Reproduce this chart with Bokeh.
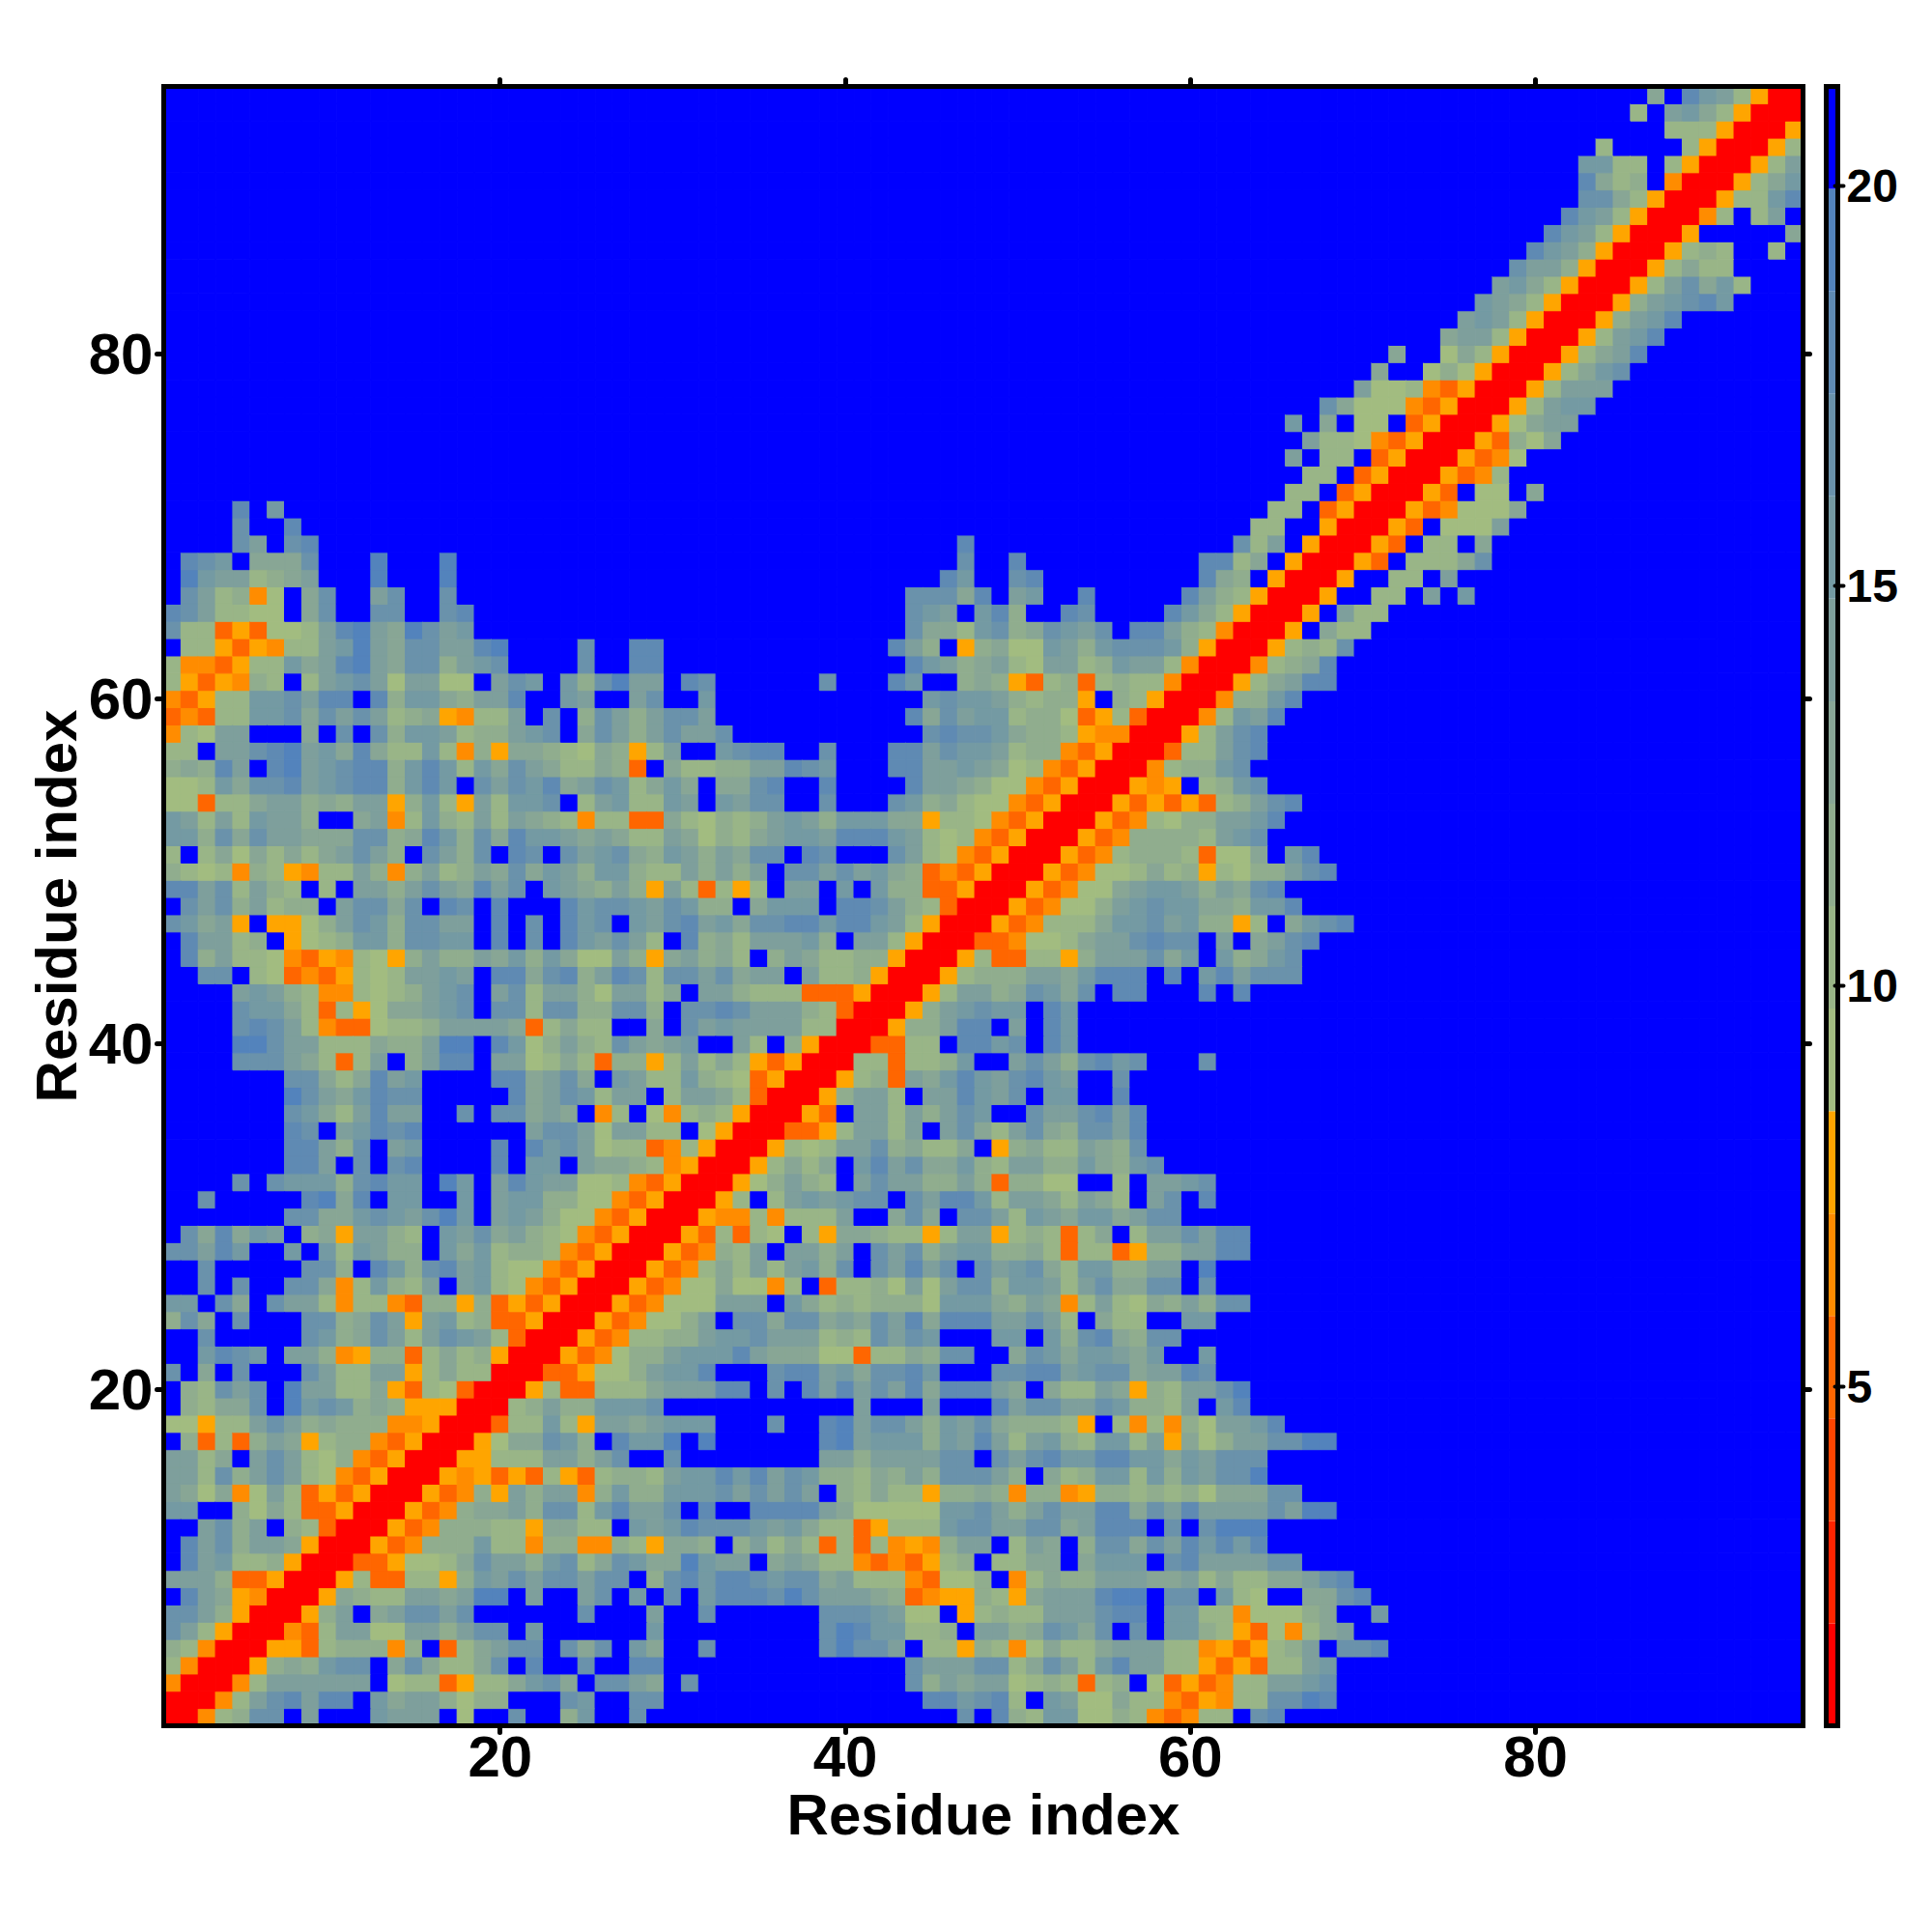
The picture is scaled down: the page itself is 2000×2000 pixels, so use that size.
from bokeh.embed import file_html
from bokeh.resources import INLINE
from bokeh.layouts import row
from bokeh.models import ColumnDataSource, FixedTicker, LinearAxis, LinearColorMapper, Range1d
from bokeh.plotting import figure
from bokeh.transform import transform

# Distance map; it is symmetric, so only the part from
# the diagonal rightwards is listed. Row r starts at column r. Sections are
# columns up to 32 | columns 33-64 | columns 65-95, and missing cells are "."
upper_rows = [
"RRn2377.5...6555.1..7..36..7....|..............7.832661132non22.7|8",
"RRn2578588.64553133...76..77...|............886782.6511422noan22|7798",
"RRn2555555.122oa224674.7754.7.|...........7354551232o23.1oaon22|5567",
"RRa343677.4742247.8..7..88...|...........75557724752685522aoao|2256",
"RRaao2333n3.o24577.747.64..7|......79775.22a32n1422455522naoa|235.778",
"RRno25511553577.6......6...|......79866223.55347647.7.6632ao|1n245",
"RRa35.457757......7...5..7|......7776511.a2322555788.6622n1|1134..6",
"RRa4322554599.5..57.6.7.6|88879755543onaa32a4555899.77.621|..4478",
"RRa2oo22a3657577577.3786|88767745222no113.n24335554452422|44578",
"RRooa112475536724764496|55.45422nonoa23.2244.4666.785555|77",
"RRaon333622n33nn32a443|.35242o2o2nan355.254.37747586868|",
"RRaon33322a4422.65687|77656422oa222677557745888.7.7999|",
"RRaon3445377268557.8|..888854111116675357558847585555|7599",
"RRaon3a5355n3633666|757575.32422a3343n33na3323231444|77",
"RRanaoao2ao2332566|868576332435377753.4236626365779|",
"RRaa22255357..7..|......553555577.7578668866465777|",
"RRa144763.8669.9|......89566636585256326625a41355|7799",
"RRo2262a5545666|...7..895775365743332a.2n2n31556|8",
"RR235336667...|........5...5...857755763325.68.|",
"RRa2oo2224555|88.7.8585758488854.42254a325579.|",
"RRooa1135668|...7885647786...7788567745587...|",
"RRaon133566|68544411o224377..476466546..6...|",
"RRaon22335|6675552327576...66.63784377.....|",
"RRaon1135|.77477454758488855752.422..66...|",
"RRaon111|555.6423233316664354n2521435377.|",
"RRaon11|411n2.o22315157736652574477.7...|",
"RRaon2|42525637.75857.756742663355.9...|",
"RRaon|325.5535.75735663342o22oa335588.|",
"RRao|2o21.2a44322a255a232o24.2557588.|",
"RRa|nn2n2225..474.7752654664577.....|",
"RR|a2.2565677.7588625542542.57.8...|",
"R|Ra13532.57553353o3311..2.5567...|",
"|RRa2424.685744632553364367|",
"|RRa21255734224.a34225437|",
"|RRooa25525.574257437758|",
"|RRao.55253576..7557858|",
"|RRa3552.558657.66..8|",
"|RRa23o5468657865..7|",
"|RR22o2236..57537867...7|",
"|RRoo22.8867.86|",
"|RRa33588.5.86|",
"|RRa356766.86|",
"|RRa255347647.88...8.8|",
"|RRa23335546888.8.6857|77",
"|RRa2oo22a3555746.634|67",
"|RRoon1124557877.5.4|578",
"|RRaon22246675633a2|.4678",
"|RRaon113567664436|68",
"|RRaon11456653547|8",
"|RRaon112423a213|3578",
"|RRaon23332o114|.68",
"|RRaon33332567|",
"|RRaon2133556|8",
"|RRaoaoao235|78",
"|RRana.2367|",
"|RRn23367.|",
"|RRo22578|",
"|RRa2578|",
"|RRn265|8",
"|RRn33|68",
"|RRa2|4588",
"|RRn|2348",
"|RR|a2327",
"|R|Ra.422",
"||RRa.522",
"||RRa..22.5.6",
"||RRa..22.5",
"||RRao.22247",
"||RRao.22.4",
"||RRao.1115",
"||RRaon1114",
"||RRao.11.4",
"||RRaon2",
"||RRaon1",
"||RRao314",
"||RRa1455",
"||RRa2566",
"||RRa2555",
"||RRa2467",
"||RRa2458",
"||RRa2568",
"||RRa3568",
"||RRa356786",
"||RRa257462",
"||RRa2422",
"||RRa232..2",
"||RRa.....4",
"||RRn2.25.",
"||RRa2268",
"||RRa246",
"||RRa25",
"||RRa2",
"||RRa",
"||RR",
"||R",
]

level_edges = [0.76, 2.04, 3.32, 4.60, 5.88, 7.16, 8.44, 9.72, 11.00, 12.28,
               13.56, 14.84, 16.12, 17.40, 18.68, 19.96, 21.24]
level_colors = ["#ff0000", "#ff2400", "#ff4500", "#ff6600", "#ff8c00", "#ffa500",
                "#a2bc80", "#99b587", "#90ad8e", "#88a695", "#7e9f9c", "#749aa3",
                "#6a92ab", "#5f8ab3", "#5383bc", "#0000ff"]
level_of_symbol = {"R": 0, "o": 3, "n": 4, "a": 5, "1": 6, "2": 7, "3": 8, "4": 9,
                   "5": 10, "6": 11, "7": 12, "8": 13, "9": 14, ".": 15}
axis_ticks = [20, 40, 60, 80]
bar_ticks = [5, 10, 15, 20]
axis_title = "Residue index"
N = 95

FONT = "Liberation Sans"


def cells_of_row(r, text):
    a, b, c = text.split("|")
    out = ""
    if r <= 32:
        out += a.ljust(33 - r, ".")[:33 - r]
    if r <= 64:
        w = 32 if r <= 32 else 65 - r
        out += b.ljust(w, ".")[:w]
    w = N - max(r, 65) + 1
    out += c.ljust(w, ".")[:w]
    return out


xs, ys, vals = [], [], []
for r, text in enumerate(upper_rows, start=1):
    for c, sym in enumerate(cells_of_row(r, text), start=r):
        lev = level_of_symbol[sym]
        mid = (level_edges[lev] + level_edges[lev + 1]) / 2
        xs.append(c); ys.append(r); vals.append(mid)
        if c != r:
            xs.append(r); ys.append(c); vals.append(mid)

mapper = LinearColorMapper(palette=level_colors, low=level_edges[0], high=level_edges[-1])


def frame_line(ax):
    ax.axis_line_color = "black"
    ax.axis_line_width = 5
    ax.axis_line_cap = "square"
    ax.minor_tick_line_color = None


def style_axis(ax, labels=True, title_standoff=0):
    ax.ticker = FixedTicker(ticks=axis_ticks)
    frame_line(ax)
    ax.major_tick_line_color = "black"
    ax.major_tick_line_width = 5
    ax.major_tick_line_cap = "round"
    ax.major_tick_in = 0
    ax.major_tick_out = 7
    if labels:
        ax.major_label_text_font = FONT
        ax.major_label_text_font_style = "bold"
        ax.major_label_text_font_size = "60px"
        ax.major_label_text_color = "black"
        ax.major_label_standoff = 4
        ax.axis_label = axis_title
        ax.axis_label_text_font = FONT
        ax.axis_label_text_font_style = "bold"
        ax.axis_label_text_font_size = "60px"
        ax.axis_label_text_color = "black"
        ax.axis_label_standoff = title_standoff
    else:
        ax.major_label_overrides = {t: "" for t in axis_ticks}
        ax.major_label_text_font_size = "0px"
        ax.major_label_standoff = 0


def plain_frame_axis():
    ax = LinearAxis(ticker=FixedTicker(ticks=[]))
    frame_line(ax)
    ax.major_tick_line_color = None
    ax.major_label_text_font_size = "0px"
    ax.major_label_standoff = 0
    return ax


p = figure(frame_width=1697, frame_height=1697, output_backend="svg", toolbar_location=None,
           x_range=Range1d(0.5, 95.5), y_range=Range1d(0.5, 95.5),
           min_border_left=169, min_border_top=89, min_border_right=14, min_border_bottom=110,
           x_axis_location="below", y_axis_location="left")
p.grid.visible = False
p.outline_line_color = None
p.rect(x="x", y="y", width=1, height=1, source=ColumnDataSource(dict(x=xs, y=ys, v=vals)),
       fill_color=transform("v", mapper), line_color=transform("v", mapper), line_width=1)
style_axis(p.xaxis[0], title_standoff=3)
style_axis(p.yaxis[0], title_standoff=-3)
top_axis = LinearAxis()
right_axis = LinearAxis()
style_axis(top_axis, labels=False)
style_axis(right_axis, labels=False)
p.add_layout(top_axis, "above")
p.add_layout(right_axis, "right")

bar = figure(frame_width=12, frame_height=1697, output_backend="svg", toolbar_location=None,
             x_range=Range1d(0, 1), y_range=Range1d(level_edges[0], level_edges[-1]),
             min_border_left=10, min_border_top=89, min_border_right=70, min_border_bottom=110,
             x_axis_location=None, y_axis_location="right")
bar.grid.visible = False
bar.outline_line_color = None
bar.quad(left=0, right=1, bottom=level_edges[:-1], top=level_edges[1:],
         fill_color=level_colors, line_color=None)
bar.add_layout(plain_frame_axis(), "above")
bar.add_layout(plain_frame_axis(), "below")
bar.add_layout(plain_frame_axis(), "left")
ax = bar.yaxis[0]
for candidate in bar.right:
    ax = candidate
ax.ticker = FixedTicker(ticks=bar_ticks)
frame_line(ax)
ax.major_tick_line_color = "black"
ax.major_tick_line_width = 4
ax.major_tick_line_cap = "round"
ax.major_tick_in = 3
ax.major_tick_out = 6
ax.major_label_text_font = FONT
ax.major_label_text_font_style = "bold"
ax.major_label_text_font_size = "48px"
ax.major_label_text_color = "black"
ax.major_label_standoff = 3

layout = row(p, bar)
open("out.html", "w").write(file_html(layout, INLINE))
